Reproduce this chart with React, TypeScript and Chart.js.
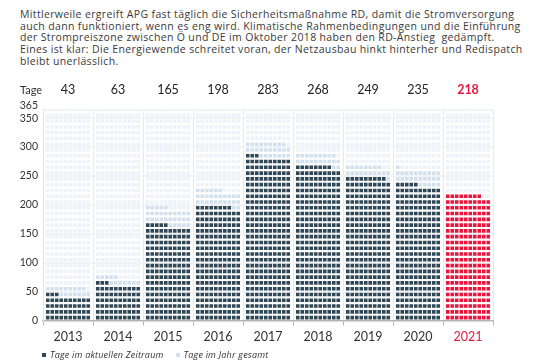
import React, { useEffect, useRef } from "react";
import { Chart, registerables } from "chart.js";
Chart.register(...registerables);

const years = ["2013", "2014", "2015", "2016", "2017", "2018", "2019", "2020", "2021"];
const currentDays = [43, 63, 165, 198, 283, 268, 249, 235, 218];
const totalDays = [59, 75, 195, 226, 309, 289, 268, 261, 218];
const daysInYear = [365, 365, 365, 366, 365, 365, 365, 366, 365];
const yTicks = [0, 50, 100, 150, 200, 250, 300, 350, 365];
const rowLabel = "Tage";
const legendCurrent = "Tage im aktuellen Zeitraum";
const legendTotal = "Tage im Jahr gesamt";
const paragraph = [
  "Mittlerweile ergreift APG fast täglich die Sicherheitsmaßnahme RD, damit die Stromversorgung",
  "auch dann funktioniert, wenn es eng wird. Klimatische Rahmenbedingungen und die Einführung",
  "der Strompreiszone zwischen Ö und DE im Oktober 2018 haben den RD-Anstieg  gedämpft.",
  "Eines ist klar: Die Energiewende schreitet voran, der Netzausbau hinkt hinterher und Redispatch",
  "bleibt unerlässlich.",
];

const DARK = "#2f4756";
const LIGHT = "#d2e1ed";
const FAINT = "#edf3f8";
const RED = "#e5173f";
const TEXT = "#333333";

const CELLS_PER_ROW = 10;
const DAYS_PER_ROW = 10;
const COL_STEP = 0.09;

function cells(i: number, from: number, to: number) {
  const pts: { x: number; y: number }[] = [];
  for (let k = from; k < to; k++) {
    const row = Math.floor(k / CELLS_PER_ROW);
    const col = k % CELLS_PER_ROW;
    pts.push({ x: i + (col - (CELLS_PER_ROW - 1) / 2) * COL_STEP, y: row * DAYS_PER_ROW + DAYS_PER_ROW / 2 });
  }
  return pts;
}

const last = years.length - 1;
const darkPts = years.flatMap((_, i) => (i === last ? [] : cells(i, 0, currentDays[i])));
const redPts = cells(last, 0, currentDays[last]);
const lightPts = years.flatMap((_, i) => cells(i, currentDays[i], totalDays[i]));
const faintPts = years.flatMap((_, i) => cells(i, totalDays[i], daysInYear[i]));

const topRowPlugin = {
  id: "topRow",
  afterDraw(chart: any) {
    const ctx = chart.ctx;
    const xs = chart.scales.x;
    const ys = chart.scales.y;
    ctx.save();
    ctx.textBaseline = "middle";
    ctx.textAlign = "left";
    ctx.fillStyle = TEXT;
    ctx.font = "11px Lato";
    ctx.fillText(rowLabel, 20, 90);
    currentDays.forEach((v, i) => {
      ctx.textAlign = "center";
      ctx.font = (i === last ? "bold " : "") + "12.5px Lato";
      ctx.fillStyle = i === last ? RED : "#222";
      ctx.fillText(String(v), xs.getPixelForValue(i), 90);
    });
    ctx.textAlign = "right";
    ctx.font = "10.5px Lato";
    ctx.fillStyle = TEXT;
    ctx.fillText("365", 38, ys.getPixelForValue(365) - 4);
    ctx.restore();
  },
};

export default function App() {
  const ref = useRef<HTMLCanvasElement>(null);
  useEffect(() => {
    if (!ref.current) return;
    const pt = { pointStyle: "rect", pointRadius: 2.55, pointBorderWidth: 0, showLine: false } as any;
    const chart = new Chart(ref.current, {
      type: "scatter",
      data: {
        datasets: [
          { label: "faint", data: faintPts, backgroundColor: FAINT, ...pt },
          { label: legendTotal, data: lightPts, backgroundColor: LIGHT, ...pt },
          { label: legendCurrent, data: darkPts, backgroundColor: DARK, ...pt },
          { label: "2021", data: redPts, backgroundColor: RED, ...pt },
        ],
      },
      options: {
        responsive: false,
        animation: false,
        events: [],
        layout: { padding: { top: 109.5, left: 0, right: 47, bottom: 17.5 } },
        plugins: { legend: { display: false }, tooltip: { enabled: false }, title: { display: false } },
        scales: {
          x: {
            type: "linear",
            min: -0.5,
            max: last + 0.5,
            afterBuildTicks: (s: any) => {
              s.ticks = years.map((_, i) => ({ value: i }));
            },
            afterFit: (s: any) => {
              s.height = 22;
            },
            ticks: {
              autoSkip: false,
              maxRotation: 0,
              padding: 4,
              font: { family: "Lato", size: 12.5 },
              color: (c: any) => (c.index === last ? RED : TEXT),
              callback: (v: any) => years[Math.round(Number(v))] ?? "",
            },
            grid: { offset: true, color: "#e6eaee", tickColor: "#b5b5b5", tickLength: 5, lineWidth: 1 },
            border: { color: "#b5b5b5", width: 1.5 },
          },
          y: {
            min: 0,
            max: 365,
            z: 1,
            afterBuildTicks: (s: any) => {
              s.ticks = yTicks.map((v) => ({ value: v }));
            },
            afterFit: (s: any) => {
              s.width = 43;
            },
            ticks: {
              autoSkip: false,
              padding: 4,
              font: { family: "Lato", size: 10.5 },
              color: TEXT,
              callback: (v: any) => (Number(v) === 365 ? "" : String(v)),
            },
            grid: {
              color: (c: any) => (c.tick && c.tick.value === 0 ? "rgba(0,0,0,0)" : "#f1f4f7"),
              lineWidth: 2,
              tickColor: "rgba(0,0,0,0)",
              tickLength: 1,
            },
            border: { color: "#dde3e8", width: 1 },
          },
        },
      },
      plugins: [topRowPlugin],
    } as any);
    return () => chart.destroy();
  }, []);

  return (
    <div style={{ position: "fixed", left: 0, top: 0, width: 540, height: 360, background: "#fff", overflow: "hidden" }}>
      <div
        style={{
          position: "absolute",
          left: 20,
          top: 9,
          fontFamily: "'Open Sans', sans-serif",
          fontSize: 10.5,
          letterSpacing: "0.35px",
          lineHeight: "11.7px",
          color: "#3a3a3a",
          whiteSpace: "pre",
        }}
      >
        {paragraph.map((l, i) => (
          <div key={i}>{l}</div>
        ))}
      </div>
      <canvas ref={ref} width={540} height={360} style={{ position: "absolute", left: 0, top: 0 }} />
      <div
        style={{
          position: "absolute",
          left: 42,
          top: 348,
          fontFamily: "'Open Sans', sans-serif",
          fontStyle: "italic",
          fontSize: 9,
          letterSpacing: "0.2px",
          color: TEXT,
          display: "flex",
          alignItems: "center",
          whiteSpace: "nowrap",
        }}
      >
        <span style={{ display: "inline-block", width: 4, height: 4, background: DARK, marginRight: 4 }} />
        <span>{legendCurrent}</span>
        <span style={{ display: "inline-block", width: 4, height: 4, background: LIGHT, marginLeft: 12, marginRight: 4 }} />
        <span>{legendTotal}</span>
      </div>
    </div>
  );
}
